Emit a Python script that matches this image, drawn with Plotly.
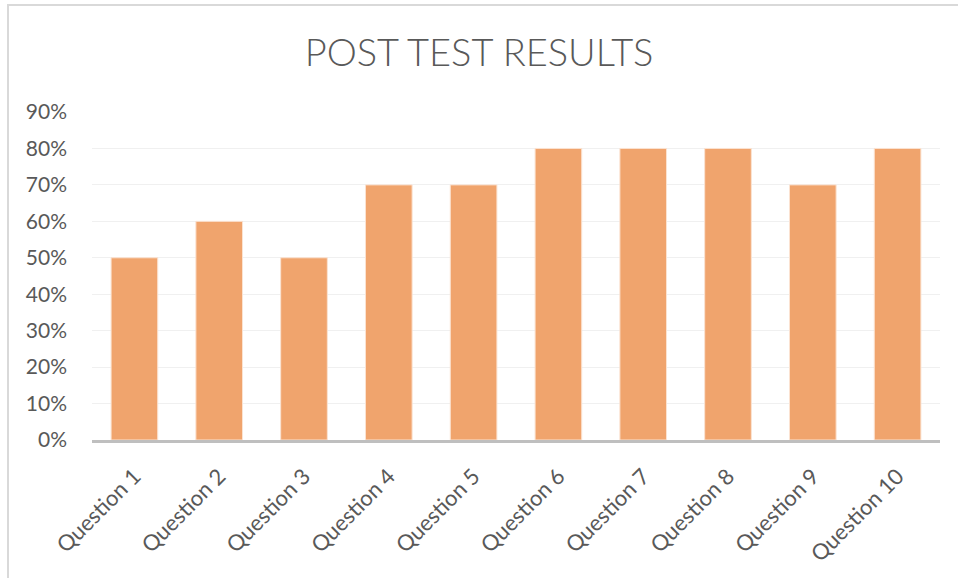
import plotly.graph_objects as go

categories = ["Question 1", "Question 2", "Question 3", "Question 4", "Question 5",
              "Question 6", "Question 7", "Question 8", "Question 9", "Question 10"]
values = [0.5, 0.6, 0.5, 0.7, 0.7, 0.8, 0.8, 0.8, 0.7, 0.8]
y_ticks = [0, 0.1, 0.2, 0.3, 0.4, 0.5, 0.6, 0.7, 0.8, 0.9]

font_family = "Lato, 'Open Sans', sans-serif"
text_color = "#595959"

fig = go.Figure(go.Bar(
    x=categories, y=values,
    marker=dict(color="#F0A46D", line=dict(color="#FBE3D2", width=1)),
))

PW, PH = 848, 328
fig.update_layout(
    width=958, height=578,
    margin=dict(l=92, r=18, t=112, b=138),
    paper_bgcolor="white", plot_bgcolor="white",
    bargap=0.45,
    showlegend=False,
    title=dict(text="POST TEST RESULTS", x=0.5, xanchor="center", y=1 - 53/578, yanchor="middle",
               font=dict(family=font_family, size=38, color=text_color, weight=300)),
    font=dict(family=font_family, color=text_color, size=20),
    shapes=[dict(type="rect", xref="paper", yref="paper",
                 x0=(8 - 92) / PW, x1=1 + 40 / PW, y0=-160 / PH, y1=1 + (112 - 5) / PH,
                 line=dict(color="#D9D9D9", width=2), fillcolor="rgba(0,0,0,0)", layer="below")],
)
fig.update_yaxes(range=[0, 0.9], tickvals=y_ticks, tickformat=".0%",
                 showgrid=True, gridcolor="#F0F0F0", gridwidth=1,
                 zeroline=False, showline=False, ticklabelstandoff=24,
                 tickfont=dict(size=21, color=text_color))
fig.update_xaxes(showline=True, linecolor="#BFBFBF", linewidth=2.5, tickangle=-45,
                 ticks="", ticklabelstandoff=12, tickfont=dict(size=22, color=text_color))

fig.write_html("out.html", config={"displayModeBar": False},
               post_script="document.body.style.margin='0';")
